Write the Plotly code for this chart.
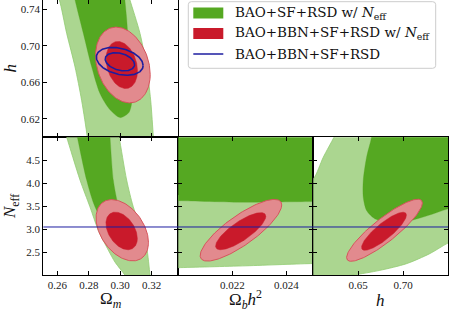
import numpy as np
import plotly.graph_objects as go

W, H = 449, 312

# ---------------- axis ranges / ticks ----------------
OMM_RANGE = [0.251, 0.337]
H_RANGE = [0.60, 0.75]
NEFF_RANGE = [2.0, 5.0]
OBH2_RANGE = [0.020, 0.025]

OMM_TICKS = [0.26, 0.28, 0.30, 0.32]
H_Y_TICKS = [0.62, 0.66, 0.70, 0.74]
NEFF_TICKS = [2.5, 3.0, 3.5, 4.0, 4.5]
OBH2_TICKS = [0.022, 0.024]
H_X_TICKS = [0.65, 0.70]

NEFF_STANDARD = 3.046

# ---------------- BAO+SF+RSD w/ Neff (green) contour boundaries ----------------
# Omega_m - h
G95_OMM_H_x = [0.2585, 0.2612, 0.2659, 0.2712, 0.2754, 0.2790, 0.2795,
               0.3215, 0.3211, 0.3194, 0.3168, 0.3126, 0.3062, 0.3045]
G95_OMM_H_y = [0.760, 0.750, 0.7135, 0.677, 0.6405, 0.6004, 0.590,
               0.590, 0.6004, 0.6405, 0.677, 0.7135, 0.750, 0.760]
G68_OMM_H_x = [0.2700, 0.2712, 0.2765, 0.2818, 0.2871, 0.2935, 0.3000,
               0.3055, 0.3075, 0.3068, 0.3055, 0.3040, 0.3030, 0.3027]
G68_OMM_H_y = [0.760, 0.750, 0.7135, 0.677, 0.6478, 0.630, 0.6215,
               0.627, 0.640, 0.660, 0.6953, 0.7318, 0.750, 0.760]
# Omega_m - Neff
G95_OMM_N_x = [0.2640, 0.2659, 0.2744, 0.2807, 0.2860, 0.2924, 0.2967, 0.3030, 0.3050,
               0.3195, 0.3190, 0.3168, 0.3136, 0.3083, 0.3041, 0.2993, 0.2980]
G95_OMM_N_y = [5.2, 5.0, 4.069, 3.487, 2.978, 2.542, 2.28, 2.0, 1.9,
               1.9, 2.0, 2.61, 2.98, 3.487, 4.07, 5.0, 5.2]
G68_OMM_N_x = [0.2715, 0.2727, 0.2786, 0.2839, 0.2913, 0.2990, 0.3015, 0.2988, 0.2956, 0.2935, 0.2930]
G68_OMM_N_y = [5.2, 5.0, 4.069, 3.487, 3.05, 2.90, 3.12, 3.487, 4.069, 5.0, 5.2]
# Omega_b h^2 - Neff
G95_OBH2_N_x = [0.0195, 0.0255, 0.0255, 0.0250, 0.0225, 0.0200, 0.0195]
G95_OBH2_N_y = [3.70, 3.70, 2.25, 2.25, 2.20, 2.16, 2.155]
G68_OBH2_N_x = [0.0195, 0.0255, 0.0255, 0.0250, 0.0225, 0.0200, 0.0195]
G68_OBH2_N_y = [5.2, 5.2, 3.60, 3.60, 3.585, 3.62, 3.63]
# h - Neff
G95_H_N_x = [0.585, 0.600, 0.6111, 0.623, 0.628, 0.770, 0.770, 0.750, 0.7296,
             0.7037, 0.6741, 0.6444, 0.620, 0.585]
G95_H_N_y = [3.90, 4.094, 4.565, 5.0, 5.2, 5.2, 2.85, 2.696, 2.464,
             2.246, 2.101, 2.0, 1.95, 1.90]
G68_H_N_x = [0.6655, 0.6648, 0.6593, 0.6556, 0.6556, 0.6593, 0.6685, 0.6815,
             0.700, 0.7222, 0.750, 0.770, 0.770]
G68_H_N_y = [5.2, 5.0, 4.565, 4.058, 3.696, 3.406, 3.225, 3.152,
             3.152, 3.261, 3.442, 3.56, 5.2]

# ---------------- BAO+BBN+SF+RSD w/ Neff (red) ellipses ----------------
# [centre x, centre y, half-extent x, half-extent y, correlation]
R95_OMM_H = [0.3017, 0.6790, 0.0174, 0.0414, -0.25]
R68_OMM_H = [0.3010, 0.6790, 0.0100, 0.0257, -0.25]
R95_OMM_N = [0.3013, 2.975, 0.0167, 0.668, -0.40]
R68_OMM_N = [0.3009, 2.960, 0.0100, 0.410, -0.40]
R95_OBH2_N = [0.02232, 2.975, 0.00151, 0.672, 0.82]
R68_OBH2_N = [0.02231, 2.955, 0.00093, 0.405, 0.80]
R95_H_N = [0.6793, 2.975, 0.0422, 0.676, 0.88]
R68_H_N = [0.6787, 2.953, 0.0250, 0.415, 0.85]

# ---------------- BAO+BBN+SF+RSD (blue) ellipses ----------------
B95_OMM_H = [0.2997, 0.6830, 0.0149, 0.0152, -0.30]
B68_OMM_H = [0.2998, 0.6825, 0.00935, 0.0099, -0.30]

LEGEND_LABELS = ["BAO+SF+RSD w/ <i>N</i><sub>eff</sub>",
                 "BAO+BBN+SF+RSD w/ <i>N</i><sub>eff</sub>",
                 "BAO+BBN+SF+RSD"]

# ---------------- styles ----------------
C_G_DARK = "#55a822"
C_G_LIGHT = "#abd690"
C_G_EDGE = "#92cb72"
C_R_DARK = "#c91a2b"
C_R_LIGHT = "#e28a8e"
C_R_EDGE = "#d6545c"
C_BLUE = "#1c1ca0"


def ellipse(p, n=181):
    cx, cy, ax, ay, rho = p
    t = np.linspace(0, 2 * np.pi, n)
    x = cx + ax * np.cos(t)
    y = cy + ay * (rho * np.cos(t) + np.sqrt(1 - rho ** 2) * np.sin(t))
    return x, y


fig = go.Figure()


def add_fill(x, y, xa, ya, fill, edge=None, ew=0, spline=True):
    fig.add_trace(go.Scatter(
        x=x, y=y, xaxis=xa, yaxis=ya, mode="lines", fill="toself",
        fillcolor=fill, line=dict(color=edge or fill, width=ew,
                                  shape="spline" if spline else "linear",
                                  smoothing=0.8),
        hoverinfo="skip", showlegend=False))


def add_red(p95, p68, xa, ya):
    x, y = ellipse(p95)
    add_fill(x, y, xa, ya, C_R_LIGHT, C_R_EDGE, 1, spline=False)
    x, y = ellipse(p68)
    add_fill(x, y, xa, ya, C_R_DARK, C_R_DARK, 0.5, spline=False)


# panel 1: Omega_m - h
add_fill(G95_OMM_H_x, G95_OMM_H_y, "x", "y", C_G_LIGHT, C_G_EDGE, 0.8)
add_fill(G68_OMM_H_x, G68_OMM_H_y, "x", "y", C_G_DARK, C_G_DARK, 0.3)
add_red(R95_OMM_H, R68_OMM_H, "x", "y")
for p in (B95_OMM_H, B68_OMM_H):
    x, y = ellipse(p)
    fig.add_trace(go.Scatter(x=x, y=y, xaxis="x", yaxis="y", mode="lines",
                             line=dict(color=C_BLUE, width=1.6),
                             hoverinfo="skip", showlegend=False))

# panel 2: Omega_m - Neff
add_fill(G95_OMM_N_x, G95_OMM_N_y, "x2", "y2", C_G_LIGHT, C_G_EDGE, 0.8)
add_fill(G68_OMM_N_x, G68_OMM_N_y, "x2", "y2", C_G_DARK, C_G_DARK, 0.3)
add_red(R95_OMM_N, R68_OMM_N, "x2", "y2")

# panel 3: Omega_b h^2 - Neff
add_fill(G95_OBH2_N_x, G95_OBH2_N_y, "x3", "y3", C_G_LIGHT, C_G_EDGE, 0.8)
add_fill(G68_OBH2_N_x, G68_OBH2_N_y, "x3", "y3", C_G_DARK, C_G_DARK, 0.3)
add_red(R95_OBH2_N, R68_OBH2_N, "x3", "y3")

# panel 4: h - Neff
add_fill(G95_H_N_x, G95_H_N_y, "x4", "y4", C_G_LIGHT, C_G_EDGE, 0.8)
add_fill(G68_H_N_x, G68_H_N_y, "x4", "y4", C_G_DARK, C_G_DARK, 0.3)
add_red(R95_H_N, R68_H_N, "x4", "y4")


def px_x(p):
    return p / W


def px_y(p):
    return 1 - p / H


COLS = [43.3, 178.3, 313.3, 448.0]
ROWS = [0.0, 137.3, 275.0]

TICKFONT = dict(family="Liberation Serif", size=11, color="#222")
base = dict(showline=True, linecolor="black", linewidth=1, mirror="ticks",
            ticks="inside", ticklen=4, tickwidth=1, tickcolor="black",
            showgrid=False, zeroline=False, tickfont=TICKFONT, fixedrange=True)


def ax(**kw):
    d = dict(base)
    d.update(kw)
    return d


dom_c1 = [px_x(COLS[0]), px_x(COLS[1])]
dom_c2 = [px_x(COLS[1]), px_x(COLS[2])]
dom_c3 = [px_x(COLS[2]), px_x(COLS[3])]
dom_r1 = [px_y(ROWS[1]), px_y(ROWS[0])]
dom_r2 = [px_y(ROWS[2]), px_y(ROWS[1])]

fig.update_layout(
    width=W, height=H, margin=dict(l=0, r=0, t=0, b=0),
    paper_bgcolor="white", plot_bgcolor="white", showlegend=False,
    xaxis=ax(domain=dom_c1, anchor="y", range=OMM_RANGE, tickvals=OMM_TICKS,
             showticklabels=False),
    yaxis=ax(domain=dom_r1, anchor="x", range=H_RANGE, tickvals=H_Y_TICKS,
             ticktext=[f"{v:.2f}" for v in H_Y_TICKS]),
    xaxis2=ax(domain=dom_c1, anchor="y2", range=OMM_RANGE, tickvals=OMM_TICKS,
              ticktext=[f"{v:.2f}" for v in OMM_TICKS]),
    yaxis2=ax(domain=dom_r2, anchor="x2", range=NEFF_RANGE, tickvals=NEFF_TICKS,
              ticktext=[f"{v:.1f}" for v in NEFF_TICKS]),
    xaxis3=ax(domain=dom_c2, anchor="y3", range=OBH2_RANGE, tickvals=OBH2_TICKS,
              ticktext=[f"{v:.3f}" for v in OBH2_TICKS]),
    yaxis3=ax(domain=dom_r2, anchor="x3", range=NEFF_RANGE, tickvals=NEFF_TICKS,
              showticklabels=False),
    xaxis4=ax(domain=dom_c3, anchor="y4", range=H_RANGE, tickvals=H_X_TICKS,
              ticktext=[f"{v:.2f}" for v in H_X_TICKS]),
    yaxis4=ax(domain=dom_r2, anchor="x4", range=NEFF_RANGE, tickvals=NEFF_TICKS,
              showticklabels=False),
)

# standard Neff reference line
for xa, ya in (("x2", "y2"), ("x3", "y3"), ("x4", "y4")):
    fig.add_shape(type="line", xref=f"{xa} domain", yref=ya, x0=0, x1=1,
                  y0=NEFF_STANDARD, y1=NEFF_STANDARD,
                  line=dict(color=C_BLUE, width=1))

# axis titles
TF = dict(family="Liberation Serif", size=17, color="#111")
titles = [
    ("Ω<sub><i>m</i></sub>", (COLS[0] + COLS[1]) / 2, 300, 0),
    ("Ω<sub><i>b</i></sub><i>h</i><sup>2</sup>", (COLS[1] + COLS[2]) / 2, 299, 0),
    ("<i>h</i>", (COLS[2] + COLS[3]) / 2, 300, 0),
    ("<i>h</i>", 10, 68.5, -90),
    ("<i>N</i><sub>eff</sub>", 11, 207, -90),
]
for txt, x, y, ang in titles:
    fig.add_annotation(text=txt, x=px_x(x), y=px_y(y), xref="paper", yref="paper",
                       xanchor="center", yanchor="middle", showarrow=False,
                       textangle=ang, font=TF)

# legend (manual)
lx0, lx1, ly0, ly1, r = 188.3, 435.7, 1.7, 68.3, 3.0
rx, ry = r / W, r / H
X0, X1, Y0, Y1 = px_x(lx0), px_x(lx1), px_y(ly1), px_y(ly0)
path = (f"M {X0 + rx},{Y1} L {X1 - rx},{Y1} Q {X1},{Y1} {X1},{Y1 - ry} "
        f"L {X1},{Y0 + ry} Q {X1},{Y0} {X1 - rx},{Y0} L {X0 + rx},{Y0} "
        f"Q {X0},{Y0} {X0},{Y0 + ry} L {X0},{Y1 - ry} Q {X0},{Y1} {X0 + rx},{Y1} Z")
fig.add_shape(type="path", path=path, xref="paper", yref="paper",
              fillcolor="white", line=dict(color="#cccccc", width=1))
row_y = [13.0, 33.5, 54.0]
fig.add_shape(type="rect", xref="paper", yref="paper", x0=px_x(193.3), x1=px_x(223.3),
              y0=px_y(row_y[0] + 5.5), y1=px_y(row_y[0] - 5.5),
              fillcolor=C_G_DARK, line=dict(width=0))
fig.add_shape(type="rect", xref="paper", yref="paper", x0=px_x(193.3), x1=px_x(223.3),
              y0=px_y(row_y[1] + 5.5), y1=px_y(row_y[1] - 5.5),
              fillcolor=C_R_DARK, line=dict(width=0))
fig.add_shape(type="line", xref="paper", yref="paper", x0=px_x(193.3), x1=px_x(223.3),
              y0=px_y(row_y[2]), y1=px_y(row_y[2]), line=dict(color=C_BLUE, width=1.5))
LF = dict(family="DejaVu Serif", size=13.5, color="#111")
for lab, yy in zip(LEGEND_LABELS, row_y):
    fig.add_annotation(text=lab, x=px_x(233), y=px_y(yy), xref="paper", yref="paper",
                       xanchor="left", yanchor="middle", showarrow=False, font=LF)

fig.write_html("out.html", config={"displayModeBar": False},
               post_script="document.body.style.margin='0';document.body.style.padding='0';")
